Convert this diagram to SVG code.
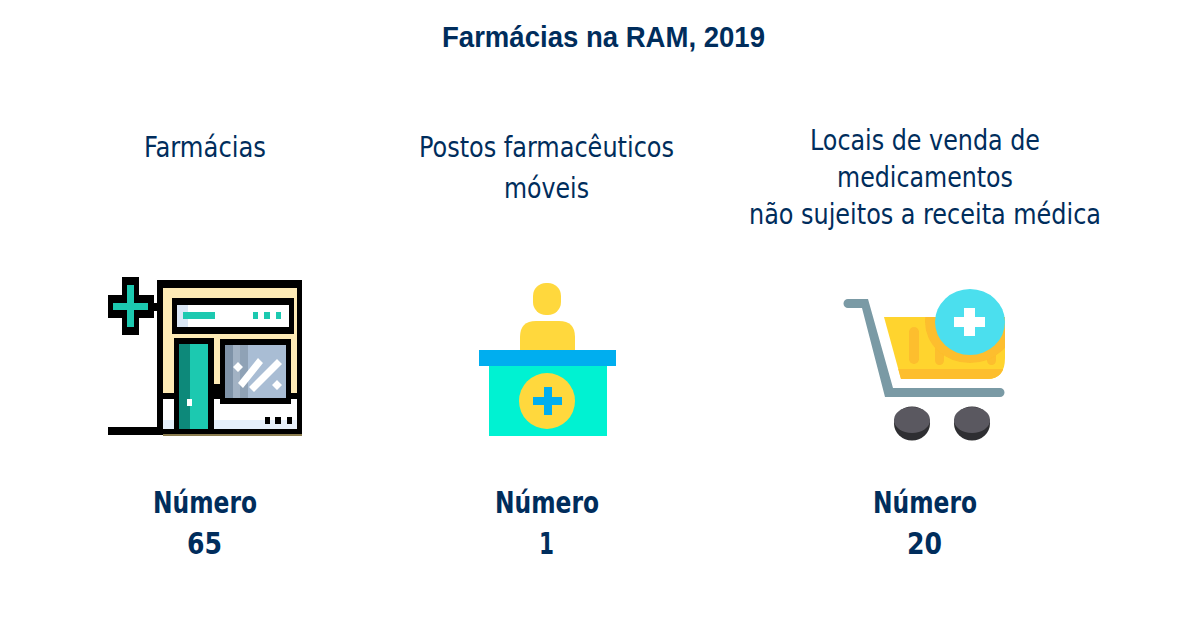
<svg xmlns="http://www.w3.org/2000/svg" width="1200" height="628" viewBox="0 0 1200 628">
<style>
text{text-anchor:middle;fill:#002d5c}
.t{font:bold 29px "Liberation Sans",Arial,sans-serif}
.l{font:29px "DejaVu Sans Condensed",sans-serif}
.n{font:bold 30px "DejaVu Sans Condensed",sans-serif}
.k{fill:#000}.te{fill:#1bc9b0}.w{fill:#fff}
.ic{filter:url(#soft)}
</style>
<defs>
<clipPath id="bk"><path d="M884 317H1005V358Q1005 379 987 379H901Z"/></clipPath>
<filter id="soft" x="-5%" y="-5%" width="110%" height="110%"><feGaussianBlur stdDeviation="0.6"/></filter>
</defs>
<rect width="1200" height="628" fill="#fff"/>
<text id="title" class="t" x="603.500" y="47" textLength="323" lengthAdjust="spacingAndGlyphs">Farmácias na RAM, 2019</text>
<g id="farmacias">
<text class="l" x="205" y="157" textLength="122" lengthAdjust="spacingAndGlyphs">Farmácias</text>
<g id="icon-farmacia" class="ic">
<path class="k" d="M122 277H139V295H154V318H139V335H122V318H108V295H122Z"/>
<path class="te" d="M127 285H134V303H148V310H134V327H127V310H113V303H127Z"/>
<rect class="k" x="152" y="303" width="8" height="8"/>
<rect class="k" x="157" y="280" width="145" height="155"/>
<rect x="163" y="288" width="134" height="105" fill="#fdeab5"/>
<rect class="k" x="172" y="298" width="122" height="36"/>
<rect class="w" x="177" y="305" width="112" height="22"/>
<rect x="177" y="305" width="11" height="22" fill="#dbe7f5"/>
<path class="te" d="M183 312H215V319H183ZM253 312H258V319H253ZM264 312H270V319H264ZM276 312H281V319H276Z"/>
<rect class="k" x="163" y="393" width="134" height="6"/>
<rect class="w" x="163" y="399" width="134" height="30"/>
<rect x="163" y="420" width="134" height="9" fill="#e6f0fb"/>
<rect class="k" x="174" y="338" width="40" height="97"/>
<rect class="te" x="179" y="344" width="29" height="85"/>
<rect x="179" y="344" width="11" height="85" fill="#07897a"/>
<rect class="w" x="187" y="399" width="5" height="7"/>
<rect class="k" x="214" y="384" width="6" height="15"/>
<rect class="k" x="220" y="339" width="71" height="65"/>
<rect x="225" y="345" width="61" height="53" fill="#a9bdd4"/>
<rect x="225" y="345" width="8" height="53" fill="#7f93a8"/>
<rect x="233" y="345" width="7" height="53" fill="#a2b2c4"/>
<rect x="240" y="345" width="8" height="53" fill="#8fa2b6"/>
<path class="w" d="M238 362L243 367L238 372L233 367ZM258 358L263 363L243 388L238 383ZM277 359L282 364L254 392L249 387ZM277 380L282 385L277 390L272 385Z"/>
<path class="k" d="M265 417H270V424H265ZM275 417H281V424H275ZM287 417H292V424H287Z"/>
<rect class="k" x="108" y="427" width="52" height="8"/>
<rect x="163" y="434" width="139" height="2" fill="#8a7c50"/>
</g>
<text class="n" x="205" y="513" textLength="104" lengthAdjust="spacingAndGlyphs">Número</text>
<text class="n" x="204.500" y="554" textLength="35" lengthAdjust="spacingAndGlyphs">65</text>
</g>
<g id="postos">
<text class="l" x="546.500" y="157" textLength="255" lengthAdjust="spacingAndGlyphs">Postos farmacêuticos</text>
<text class="l" x="546.500" y="198" textLength="85" lengthAdjust="spacingAndGlyphs">móveis</text>
<g id="icon-posto" class="ic">
<rect x="533" y="283" width="28" height="32" rx="13" fill="#ffd83d"/>
<path d="M520 351V337Q520 321 536 321H559Q575 321 575 337V351Z" fill="#ffd83d"/>
<rect x="489" y="366" width="118" height="70" fill="#00f2d2"/>
<rect x="479" y="350" width="137" height="16" fill="#00aeef"/>
<circle cx="547" cy="401" r="28" fill="#ffd83d"/>
<path d="M544 387H552V397H562V405H552V415H544V405H533V397H544Z" fill="#00aeef"/>
</g>
<text class="n" x="547" y="513" textLength="104" lengthAdjust="spacingAndGlyphs">Número</text>
<text class="n" x="546.500" y="554" textLength="15" lengthAdjust="spacingAndGlyphs">1</text>
</g>
<g id="locais">
<text class="l" x="925" y="150" textLength="230" lengthAdjust="spacingAndGlyphs">Locais de venda de</text>
<text class="l" x="925" y="187" textLength="176" lengthAdjust="spacingAndGlyphs">medicamentos</text>
<text class="l" x="925" y="224" textLength="352" lengthAdjust="spacingAndGlyphs">não sujeitos a receita médica</text>
<g id="icon-carrinho" class="ic">
<path d="M884 317H1005V358Q1005 379 987 379H901Z" fill="#ffd42f"/>
<g clip-path="url(#bk)" fill="#fdbe2d">
<rect x="884" y="369" width="121" height="10"/>
<rect x="909" y="327" width="10" height="37" rx="5"/>
<rect x="935" y="345" width="9" height="20" rx="4.500"/>
<rect x="987" y="345" width="9" height="20" rx="4.500"/>
<ellipse cx="970" cy="322" rx="45" ry="41"/>
</g>
<ellipse cx="970" cy="322" rx="35" ry="33" fill="#4bdfee"/>
<path class="w" d="M964 308H975V317H985V327H975V336H964V327H954V317H964Z"/>
<path d="M848 299H868L893 388H1000A4.500 4.500 0 0 1 1000 397H885L862 308H848A4.500 4.500 0 0 1 848 299Z" fill="#7a9aa5"/>
<ellipse cx="912" cy="423.500" rx="18" ry="17" fill="#2e2e30"/>
<ellipse cx="912" cy="420" rx="18" ry="13" fill="#5a5860"/>
<ellipse cx="972" cy="423.500" rx="18" ry="17" fill="#2e2e30"/>
<ellipse cx="972" cy="420" rx="18" ry="13" fill="#5a5860"/>
</g>
<text class="n" x="925" y="513" textLength="104" lengthAdjust="spacingAndGlyphs">Número</text>
<text class="n" x="924.500" y="554" textLength="35" lengthAdjust="spacingAndGlyphs">20</text>
</g>
</svg>
